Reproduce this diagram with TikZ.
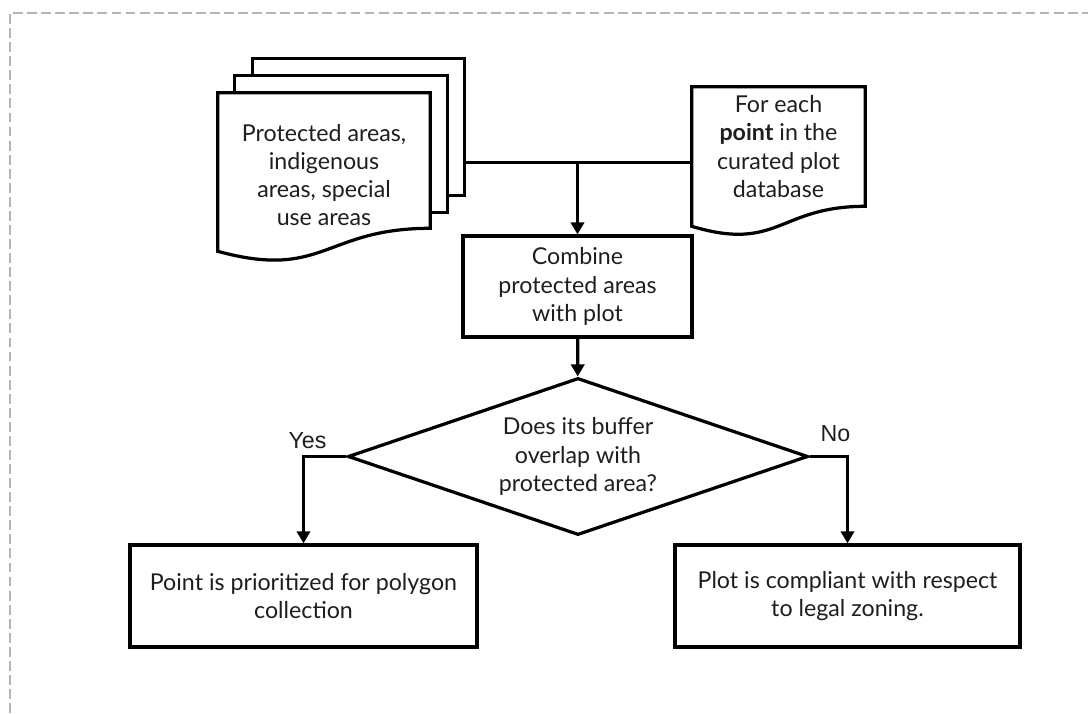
\documentclass[tikz,border=0pt]{standalone}
\usepackage{fontspec}
\setmainfont{Lato}
\newfontfamily\ansfont{Liberation Sans}
\usetikzlibrary{arrows.meta,positioning,calc,shapes.geometric,backgrounds}
\definecolor{cInk}{HTML}{000000}
\definecolor{cText}{HTML}{1E1E1E}
\definecolor{cFrame}{HTML}{B4B4B4}
\tikzset{
  txt/.style={font=\fontsize{16.5}{20}\selectfont, text=cText, align=center, inner sep=0pt},
  box/.style={txt, draw=cInk, line width=2.3pt, fill=white},
  sheet/.style={draw=cInk, line width=2.3pt, fill=white},
  link/.style={line width=2.3pt, draw=cInk},
  flow/.style={-{Triangle[length=3mm, width=3.3mm]}, line width=2.3pt, draw=cInk},
  ans/.style={font=\ansfont\fontsize{16.5}{20}\selectfont, text=cText},
  frame/.style={draw=cFrame, line width=2pt, dash pattern=on 7pt off 3pt},
}
% document outline round a node: #2 top extra, #3 left drop, #4 wave control drop
\newcommand{\docline}[4]{%
  \draw[sheet] ($(#1.north west)+(0,-#2)$) -- ($(#1.north east)+(0,-#2)$) -- (#1.south east)
    .. controls (#1.south) and ($(#1.south)+(0,#4)$) .. ($(#1.south west)+(0,#3)$) -- cycle;}

\begin{document}
\begin{tikzpicture}[x=0.025cm, y=-0.025cm]
\useasboundingbox (0,0) rectangle (1088,713);
\draw[frame] (10,713) -- (10,13) -- (1088,13);
% inputs
\node[txt, minimum width=5.3cm, minimum height=2.65cm] (pa) at (324,175)
  {Protected areas,\\indigenous\\areas, special\\use areas};
\node[txt, minimum width=4.325cm, minimum height=2.975cm] (fe) at (778.5,146.5)
  {For each\\\textbf{point} in the\\curated plot\\database};
\begin{scope}[on background layer]
  \draw[sheet] ($(pa.north west)+(35,-63)$) rectangle ($(pa.south east)+(34,-33)$);
  \draw[sheet] ($(pa.north west)+(17,-46)$) rectangle ($(pa.south east)+(17,-16)$);
  \docline{pa}{29}{23}{52}
  \docline{fe}{0}{20}{46}
\end{scope}
\coordinate (pj) at ($(pa.south east)+(34,-66)$);
% steps
\node[box, minimum width=5.725cm, minimum height=2.525cm] (cb) at (577.5,286.5)
  {Combine\\protected areas\\with plot};
\node[box, diamond, shape aspect=2.93, minimum width=11.5cm, minimum height=3.925cm] (dm) at (578,456.5)
  {Does its buffer\\overlap with\\protected area?};
\node[box, minimum width=8.675cm, minimum height=2.55cm] (yb) at (303.5,596)
  {Point is prioritized for polygon\\collection};
\node[box, minimum width=8.625cm, minimum height=2.55cm] (nb) at (847.5,596)
  {Plot is compliant with respect\\to legal zoning.};
% connectors
\draw[link] (pj) -- (pj -| fe.west);
\draw[flow] (pj -| cb.north) -- (cb.north);
\draw[flow] (cb) -- (dm);
\draw[flow] (dm.west) -| node[ans, pos=0.5, above=1pt, xshift=0.1cm] (yes) {Yes} (yb);
\draw[flow] (dm.east) -| node[ans, pos=0.5, above=6pt, xshift=-0.3cm] (no) {No} (nb);
\end{tikzpicture}
\end{document}
